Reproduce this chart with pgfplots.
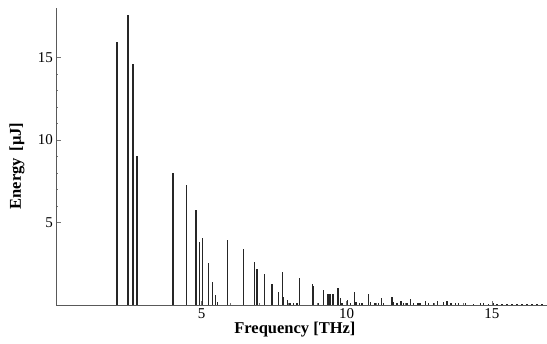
\documentclass[border=0pt]{standalone}
\usepackage{fontspec}
\setmainfont{Liberation Serif}
\usepackage{pgfplots}
\pgfplotsset{compat=1.18}
\begin{document}
\begin{tikzpicture}
\path[use as bounding box] (-56.5pt,-39pt) rectangle (490.5pt,305pt);
\begin{axis}[
  at={(0,0)}, anchor=south west,
  scale only axis, width=490.5pt, height=297pt,
  xmin=0, xmax=16.9, ymin=0, ymax=18,
  axis lines*=left,
  axis line style={black!65, line width=0.6pt},
  xtick={5,10,15}, ytick={5,10,15},
  minor tick num=4,
  tick align=inside,
  major tick length=4pt, minor tick length=2pt,
  tick style={black!55, line width=0.5pt},
  /pgf/number format/assume math mode=true,
  tick label style={font=\fontsize{15}{15}\selectfont, text=black},
  xticklabel style={yshift=0pt},
  clip=false,
  xlabel={Frequency [THz]},
  ylabel={Energy\, [µJ]},
  every axis x label/.style={at={(axis description cs:0.486,0)}, yshift=-24.5pt, anchor=center, font=\fontsize{16.5}{16.5}\selectfont\bfseries},
  every axis y label/.style={at={(axis description cs:0,0.468)}, xshift=-39.5pt, rotate=90, anchor=center, font=\fontsize{16.5}{16.5}\selectfont\bfseries},
]
\addplot[ycomb, black!85, line width=1.4pt, no marks] coordinates {
(2.08,15.95) (2.46,17.55) (2.64,14.6) (2.77,9.0) (4.01,7.97)
(4.47,7.30) (4.80,5.75) (4.92,3.79) (5.04,4.07) (5.23,2.52)
(5.37,1.37) (5.48,0.6) (5.54,0.2) (5.89,3.93) (6.44,3.37)
(6.83,2.58) (6.91,2.16) (7.16,1.87) (7.43,1.27) (7.64,0.81)
(7.79,1.97) (7.82,0.5) (7.96,0.3) (8.05,0.15) (8.16,0.12)
(8.28,0.1) (8.37,1.61) (8.82,1.25) (8.86,1.15) (9.03,0.1)
(9.20,0.91) (9.35,0.64) (9.42,0.64) (9.52,0.64) (9.70,1.0)
(9.78,0.4) (9.83,0.1) (10.03,0.3) (10.12,0.1) (10.27,0.79)
(10.32,0.2) (10.44,0.1) (10.52,0.1) (10.75,0.65) (10.81,0.2)
(10.98,0.12) (11.10,0.15) (11.19,0.4) (11.27,0.1) (11.56,0.47)
(11.61,0.2) (11.73,0.15) (11.87,0.26) (11.96,0.1) (12.08,0.15)
(12.19,0.34) (12.30,0.1) (12.46,0.15) (12.53,0.1) (12.71,0.26)
(12.82,0.1) (12.99,0.15) (13.13,0.26) (13.34,0.2) (13.46,0.25)
(13.59,0.15) (13.74,0.1) (13.86,0.12) (14.09,0.1) (14.37,0.08)
(14.60,0.1) (14.72,0.12) (14.89,0.08) (15.06,0.15) (15.18,0.06)
(15.35,0.06) (15.52,0.05) (15.70,0.05) (15.87,0.05) (16.04,0.05)
(16.21,0.05) (16.38,0.05) (16.56,0.05) (16.73,0.05)
};
\end{axis}
\end{tikzpicture}
\end{document}
